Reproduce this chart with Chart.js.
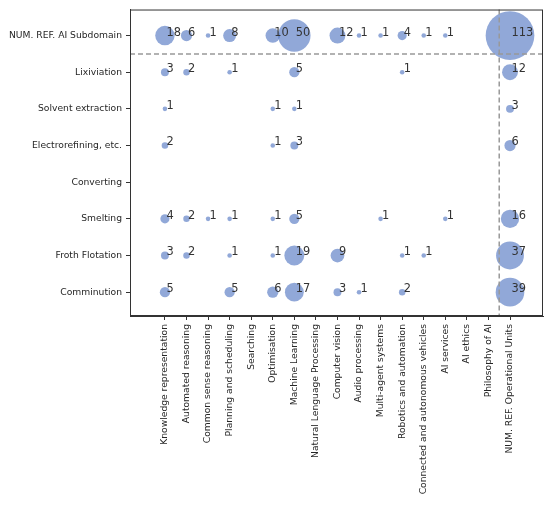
<!DOCTYPE html>
<html>
<head>
<meta charset="utf-8">
<script src="https://cdn.jsdelivr.net/npm/chart.js@4"></script>
<style>
  html, body { margin: 0; padding: 0; background: #fff; }
  #wrap { width: 550px; height: 506px; }
</style>
</head>
<body>
<div id="wrap"><canvas id="bubbleChart"></canvas></div>
<script>
const aiAreas = [
    'Knowledge representation', 'Automated reasoning', 'Common sense reasoning',
    'Planning and scheduling', 'Searching', 'Optimisation', 'Machine Learning',
    'Natural Lenguage Processing', 'Computer vision', 'Audio processing',
    'Multi-agent systems', 'Robotics and automation', 'Connected and autonomous vehicles',
    'AI services', 'AI ethics', 'Philosophy of AI', 'NUM. REF. Operational Units'
];
const processes = [
    'NUM. REF. AI Subdomain', 'Lixiviation', 'Solvent extraction',
    'Electrorefining, etc.', 'Converting', 'Smelting', 'Froth Flotation', 'Comminution'
];

// one row per process, one entry per AI area (null = no references)
const subdomainTotals = [18, 6, 1, 8, null, 10, 50, null, 12, 1, 1, 4, 1, 1, null, null, 113];
const lixiviation     = [3, 2, null, 1, null, null, 5, null, null, null, null, 1, null, null, null, null, 12];
const solventExtr     = [1, null, null, null, null, 1, 1, null, null, null, null, null, null, null, null, null, 3];
const electrorefining = [2, null, null, null, null, 1, 3, null, null, null, null, null, null, null, null, null, 6];
const converting      = [null, null, null, null, null, null, null, null, null, null, null, null, null, null, null, null, null];
const smelting        = [4, 2, 1, 1, null, 1, 5, null, null, null, 1, null, null, 1, null, null, 16];
const frothFlotation  = [3, 2, null, 1, null, 1, 19, null, 9, null, null, 1, 1, null, null, null, 37];
const comminution     = [5, null, null, 5, null, 6, 17, null, 3, 1, null, 2, null, null, null, null, 39];

const rows = [subdomainTotals, lixiviation, solventExtr, electrorefining,
              converting, smelting, frothFlotation, comminution];

// separators between totals and the rest
const totalsRowSplit = 0.5;
const totalsColSplit = 15.5;

const points = [];
rows.forEach((row, yi) => {
    row.forEach((v, xi) => {
        if (v !== null) points.push({ x: xi, y: yi, v: v });
    });
});

const FONT = "'DejaVu Sans', sans-serif";
const AXIS_COLOR = '#333333';

const overlayPlugin = {
    id: 'overlay',
    afterDatasetsDraw(chart) {
        const ctx = chart.ctx;
        const area = chart.chartArea;
        const xs = chart.scales.x;
        const ys = chart.scales.y;

        // value labels next to bubbles
        const meta = chart.getDatasetMeta(0);
        ctx.save();
        ctx.font = `11.4px ${FONT}`;
        ctx.fillStyle = '#333333';
        ctx.textAlign = 'left';
        ctx.textBaseline = 'middle';
        meta.data.forEach((el, i) => {
            ctx.fillText(String(points[i].v), el.x + 1.5, el.y - 3);
        });

        // dashed separators
        ctx.strokeStyle = '#999999';
        ctx.lineWidth = 1.5;
        ctx.setLineDash([5, 3]);
        const hy = ys.getPixelForValue(totalsRowSplit);
        ctx.beginPath();
        ctx.moveTo(area.left, hy);
        ctx.lineTo(area.right, hy);
        ctx.stroke();
        const vx = xs.getPixelForValue(totalsColSplit);
        ctx.beginPath();
        ctx.moveTo(vx, area.top);
        ctx.lineTo(vx, area.bottom);
        ctx.stroke();

        // frame
        ctx.setLineDash([]);
        ctx.strokeStyle = AXIS_COLOR;
        ctx.lineWidth = 1;
        ctx.strokeRect(area.left + 0.5, area.top + 0.5, area.right - area.left - 1, area.bottom - area.top - 1);
        ctx.restore();
    }
};

new Chart(document.getElementById('bubbleChart'), {
    type: 'bubble',
    data: {
        datasets: [{
            data: points,
            backgroundColor: 'rgba(72, 110, 190, 0.6)',
            borderWidth: 0,
            radius: (c) => Math.sqrt(c.raw.v) * 2.29
        }]
    },
    options: {
        responsive: true,
        maintainAspectRatio: false,
        animation: false,
        layout: {
            autoPadding: false,
            padding: { top: 9, right: 7, left: 0, bottom: 0 }
        },
        plugins: {
            legend: { display: false },
            tooltip: { enabled: false }
        },
        scales: {
            x: {
                type: 'linear',
                min: -1.62,
                max: 17.53,
                afterBuildTicks: (scale) => {
                    scale.ticks = aiAreas.map((_, i) => ({ value: i }));
                },
                afterFit: (scale) => { scale.height = 190; },
                grid: { drawOnChartArea: false, drawTicks: true, tickLength: 4, color: AXIS_COLOR },
                border: { display: true, color: AXIS_COLOR },
                ticks: {
                    autoSkip: false,
                    minRotation: 90,
                    maxRotation: 90,
                    padding: 4,
                    color: '#262626',
                    font: { family: FONT, size: 9.2 },
                    callback: (v) => aiAreas[v]
                }
            },
            y: {
                type: 'linear',
                reverse: true,
                min: -0.71,
                max: 7.65,
                afterBuildTicks: (scale) => {
                    scale.ticks = processes.map((_, i) => ({ value: i }));
                },
                afterFit: (scale) => { scale.width = 130; },
                grid: { drawOnChartArea: false, drawTicks: true, tickLength: 4, color: AXIS_COLOR },
                border: { display: true, color: AXIS_COLOR },
                ticks: {
                    autoSkip: false,
                    padding: 4,
                    color: '#262626',
                    font: { family: FONT, size: 9.2 },
                    callback: (v) => processes[v]
                }
            }
        }
    },
    plugins: [overlayPlugin]
});
</script>
</body>
</html>
